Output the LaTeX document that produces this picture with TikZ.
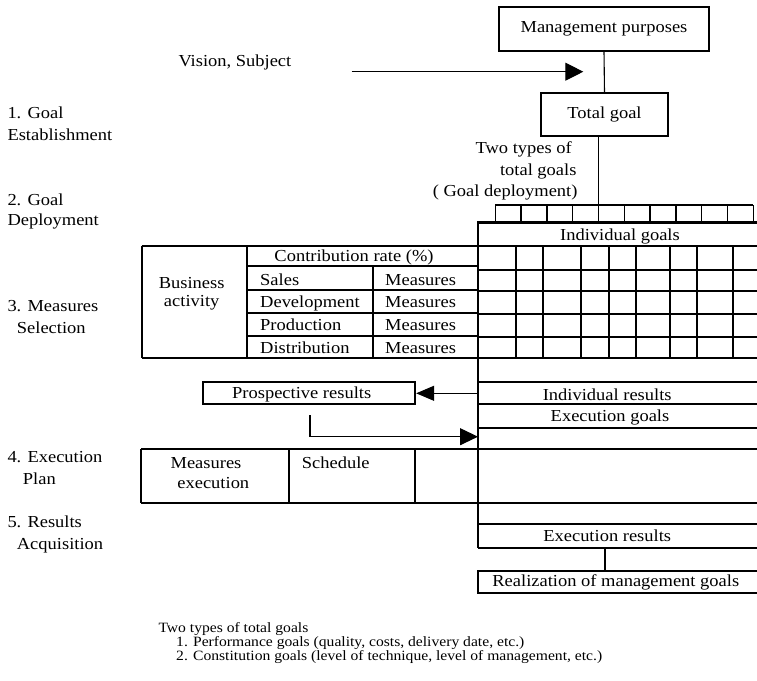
\documentclass[tikz,border=0pt]{standalone}
\usepackage{fontspec}
\setmainfont{Liberation Serif}[FakeStretch=1.1]
\usetikzlibrary{arrows.meta}

\begin{document}
\begin{tikzpicture}[x=1pt,y=-1pt,
  thinline/.style={line width=1.1pt},
  thickline/.style={line width=2.2pt},
  txt/.style={inner sep=0pt, font=\fontsize{16.8}{20}\selectfont},
  note/.style={inner sep=0pt, font=\fontsize{14.2}{14}\selectfont},
  topbox/.style={draw, thinline, inner sep=0pt, font=\fontsize{16.8}{20}\selectfont},
  bigtip/.style={-{Triangle[length=18pt,width=#1]}},
]
\useasboundingbox (0,0) rectangle (757,680);

% ---- top: purposes and total goal
\node[topbox, minimum width=210pt, minimum height=44pt] (mp) at (604,29) {Management purposes};
\node[topbox, minimum width=127pt, minimum height=43pt] (tg) at (604.5,114.5) {Total goal};
\draw[thinline] (mp.south) -- (tg.north);

\node[txt, anchor=base west] (vis) at (178.3,66.7) {Vision, Subject};
\coordinate (vs) at (351.7,71.7);
\coordinate (ve) at (583.3,71.7);
\draw[thinline, bigtip=18pt] (vs) -- (ve);

\node[txt, anchor=base east] (tt1) at (572,153.3) {Two types of};
\node[txt, anchor=base east] (tt2) at (576.7,175) {total goals};
\node[txt, anchor=base east] (tt3) at (577.7,196.7) {( Goal deployment)};

% ---- goal deployment strip
\coordinate (dep) at (598.7,205);
\draw[thinline] (tg.south -| dep) -- (dep);
\draw[thinline] (495.3,205) -- (753.3,205);
\foreach \x in {495.3,521,547,572.7,598.7,624.3,650,676,701.7,727.7,753.3}
  \draw[thinline] (\x,205) -- (\x,222.5);

% ---- individual goals and main spine
\draw[thickline] (757,222.5) -- (478,222.5) -- (478,547.7);
\node[txt, anchor=base] (ig) at (620,240.7) {Individual goals};

% goals grid
\draw[thickline] (141.7,246) -- (757,246);
\draw[thickline] (141.7,358.3) -- (757,358.3);
\foreach \y in {270,291,314.3,336.7}
  \draw[thickline] (478,\y) -- (757,\y);
\foreach \x in {515.7,543,581,609.3,635.7,670,697.3,733.3}
  \draw[thickline] (\x,246) -- (\x,358.3);

% measures selection table
\draw[thickline] (141.7,246) -- (141.7,358.3);
\draw[thickline] (246.7,246) -- (246.7,358.3);
\foreach \y in {266,290,313.3,336}
  \draw[thickline] (246.7,\y) -- (478,\y);
\draw[thickline] (373.3,266) -- (373.3,358.3);

\node[txt, anchor=base] (ba1) at (191.7,288.8) {Business};
\node[txt, anchor=base] (ba2) at (191.7,306.7) {activity};
\node[txt, anchor=base] (cr) at (354,261.7) {Contribution rate (\%)};
\node[txt, anchor=base west] (sa) at (260,285) {Sales};
\node[txt, anchor=base west] (de) at (260,307.7) {Development};
\node[txt, anchor=base west] (pd) at (260,330.7) {Production};
\node[txt, anchor=base west] (di) at (260,353.3) {Distribution};
\node[txt, anchor=base west] (m1) at (385,285) {Measures};
\node[txt, anchor=base west] (m2) at (385,307.7) {Measures};
\node[txt, anchor=base west] (m3) at (385,330.7) {Measures};
\node[txt, anchor=base west] (m4) at (385,353.3) {Measures};

% ---- results and execution rows
\foreach \y in {382.3,404.3,427.7,524.3,547.7}
  \draw[thickline] (478,\y) -- (757,\y);
\draw[thickline] (141,449.3) -- (757,449.3);
\draw[thickline] (141,502.7) -- (757,502.7);
\foreach \x in {141,289,415}
  \draw[thickline] (\x,449.3) -- (\x,502.7);

\node[txt, anchor=base] (ir) at (607.2,400) {Individual results};
\node[txt, anchor=base] (eg) at (610,421.7) {Execution goals};
\node[txt, anchor=base] (ex) at (607.2,541.7) {Execution results};

\node[draw, thickline, inner sep=0pt, minimum width=211.7pt, minimum height=22pt] (pr) at (309.2,393.3) {};
\node[txt, anchor=base] (prt) at (301.7,398.3) {Prospective results};
\coordinate (irl) at (478,393.3);
\draw[thinline, bigtip=15pt] (irl) -- (pr.east);

\coordinate (bs) at (310,415);
\coordinate (be) at (478,436.7);
\draw[thinline, bigtip=17pt] (bs) |- (be);

\node[txt, anchor=base] (me1) at (206,468.3) {Measures};
\node[txt, anchor=base] (me2) at (213.3,488.3) {execution};
\node[txt, anchor=base west] (sc) at (301.7,468.3) {Schedule};

% realization of management goals
\coordinate (rz) at (478,570.7);
\draw[thickline] (757,570.7) -- (rz) -- (478,593.3) -- (757,593.3);
\coordinate (er) at (605,547.7);
\draw[thickline] (er) -- (er |- rz);
\node[txt, anchor=base] (rl) at (615.8,586.7) {Realization of management goals};

% ---- step labels
\node[txt, anchor=base west] (s1a) at (7.3,118.3) {1. Goal};
\node[txt, anchor=base west] (s1b) at (7.3,140) {Establishment};
\node[txt, anchor=base west] (s2a) at (7.3,205.5) {2. Goal};
\node[txt, anchor=base west] (s2b) at (7.3,225.5) {Deployment};
\node[txt, anchor=base west] (s3a) at (7.3,311.7) {3. Measures};
\node[txt, anchor=base west] (s3b) at (16.7,333.3) {Selection};
\node[txt, anchor=base west] (s4a) at (7.3,462.7) {4. Execution};
\node[txt, anchor=base west] (s4b) at (22.7,484) {Plan};
\node[txt, anchor=base west] (s5a) at (7.3,527.3) {5. Results};
\node[txt, anchor=base west] (s5b) at (16.7,549.3) {Acquisition};

% ---- footnote
\node[note, anchor=base west] (n0) at (158.3,632.7) {Two types of total goals};
\node[note, anchor=base west] (n1) at (176,646.7) {1. Performance goals (quality, costs, delivery date, etc.)};
\node[note, anchor=base west] (n2) at (176,660.7) {2. Constitution goals (level of technique, level of management, etc.)};
\end{tikzpicture}
\end{document}
